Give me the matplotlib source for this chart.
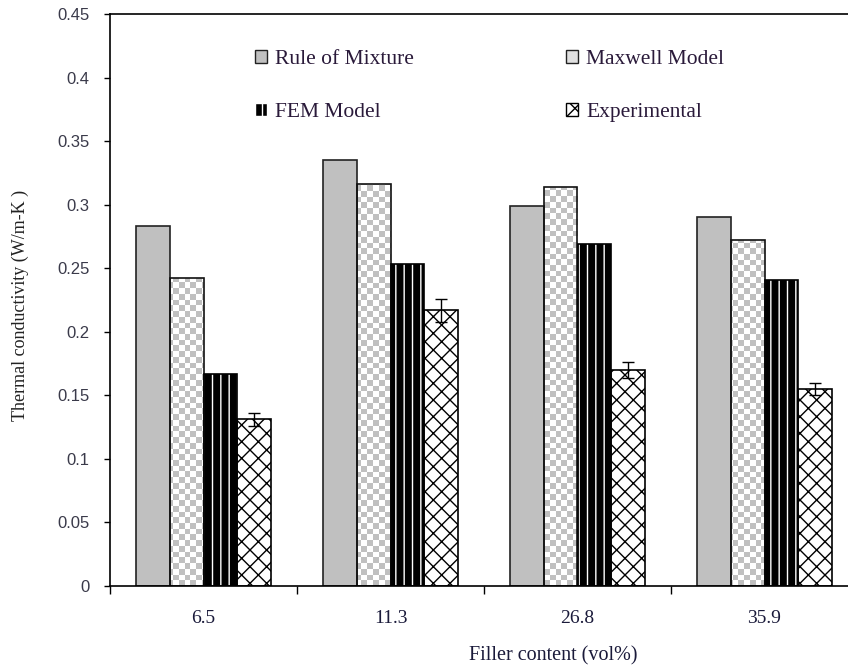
import numpy as np
import matplotlib
matplotlib.use("Agg")
import matplotlib.pyplot as plt
from matplotlib.patches import Patch

categories = ["6.5", "11.3", "26.8", "35.9"]
series_names = ["Rule of Mixture", "Maxwell Model", "FEM Model", "Experimental"]
rule_of_mixture = [0.283, 0.335, 0.299, 0.290]
maxwell_model = [0.242, 0.316, 0.314, 0.272]
fem_model = [0.167, 0.253, 0.269, 0.241]
experimental = [0.131, 0.217, 0.170, 0.155]
experimental_err = [0.005, 0.009, 0.006, 0.005]

plt.rcParams["hatch.linewidth"] = 1.0
fig = plt.figure(figsize=(8.48, 6.67), dpi=100)
ax = fig.add_axes([110/848, (667-586)/667, 748/848, (586-14)/667])

x = np.arange(len(categories))
w = 0.18
offs = [-1.5*w, -0.5*w, 0.5*w, 1.5*w]

# Rule of Mixture: solid grey
ax.bar(x+offs[0], rule_of_mixture, w, facecolor="#c0c0c0", edgecolor="#222222", linewidth=1.2, zorder=2)

# Maxwell: checker pattern clipped to bars
mx_bars = ax.bar(x+offs[1], maxwell_model, w, facecolor="white", edgecolor="none", linewidth=0, zorder=1)
ny, nx = 100, 131
yy, xx = np.mgrid[0:ny, 0:nx]
checker = ((xx + yy) % 2).astype(float)
cmap = matplotlib.colors.ListedColormap(["#c0c0c0", "#ffffff"])
for b in mx_bars:
    im = ax.imshow(checker, cmap=cmap, extent=(-0.5, 3.5, 0, 0.45), aspect="auto",
                   interpolation="nearest", origin="lower", zorder=1.5)
    im.set_clip_path(b)
ax.bar(x+offs[1], maxwell_model, w, fill=False, edgecolor="#111111", linewidth=1.2, zorder=2)

# FEM: black with white vertical stripes
ax.bar(x+offs[2], fem_model, w, facecolor="black", edgecolor="white", hatch="||", linewidth=0, zorder=1.5)
ax.bar(x+offs[2], fem_model, w, fill=False, edgecolor="black", linewidth=1.2, zorder=2)

# Experimental: cross hatch
ax.bar(x+offs[3], experimental, w, facecolor="white", edgecolor="black", hatch="xx", linewidth=0, zorder=1.5)
ax.bar(x+offs[3], experimental, w, fill=False, edgecolor="black", linewidth=1.2, zorder=2)
ax.errorbar(x+offs[3], experimental, yerr=experimental_err, fmt="none", ecolor="black",
            elinewidth=1, capsize=4, capthick=1, zorder=3)

ax.set_xlim(-0.5, 3.5)
ax.set_ylim(0, 0.45)
ax.set_yticks(np.arange(0, 0.451, 0.05))
ax.set_yticklabels(["0", "0.05", "0.1", "0.15", "0.2", "0.25", "0.3", "0.35", "0.4", "0.45"],
                   fontfamily="Liberation Sans", fontsize=12, color="#3a3a4a")
ax.set_xticks(np.arange(-0.5, 3.6, 1.0))
ax.set_xticklabels([])
ax.set_xticks(x, minor=True)
ax.set_xticklabels(categories, minor=True, fontfamily="Liberation Serif", fontsize=14, color="#1a1a3a")
ax.tick_params(axis="x", which="minor", length=0, pad=17)
ax.tick_params(axis="x", which="major", length=6, direction="out", width=1)
ax.tick_params(axis="y", length=4.5, direction="out", width=1, pad=10)
for s in ax.spines.values():
    s.set_linewidth(1.2)

ax.set_ylabel("Thermal conductivity (W/m-K )", fontfamily="Liberation Serif", fontsize=13,
              color="#222222")
ax.yaxis.set_label_coords((29-110)/748, (586-305)/572)
ax.set_xlabel("Filler content (vol%)", fontfamily="Liberation Serif", fontsize=14.5,
              color="#1a1a3a")
ax.xaxis.set_label_coords((553-110)/748, (586-646)/572)

handles = [
    Patch(facecolor="#c0c0c0", edgecolor="#222222", label=series_names[0]),
    Patch(facecolor="black", edgecolor="white", hatch="||", label=series_names[2]),
    Patch(facecolor="#e0e0e0", edgecolor="#222222", label=series_names[1]),
    Patch(facecolor="white", edgecolor="black", hatch="xx", label=series_names[3]),
]
leg = ax.legend(handles=handles, ncol=2, frameon=False, loc="upper left",
                bbox_to_anchor=((255-110)/748, 0.937), prop={"family": "Liberation Serif", "size": 15.5},
                handlelength=0.56, handleheight=0.56, handletextpad=0.37, columnspacing=7.07,
                labelspacing=1.58, borderaxespad=0, borderpad=0)
for t in leg.get_texts():
    t.set_color("#2a1a3a")

fig.savefig("out.png", dpi=100)
